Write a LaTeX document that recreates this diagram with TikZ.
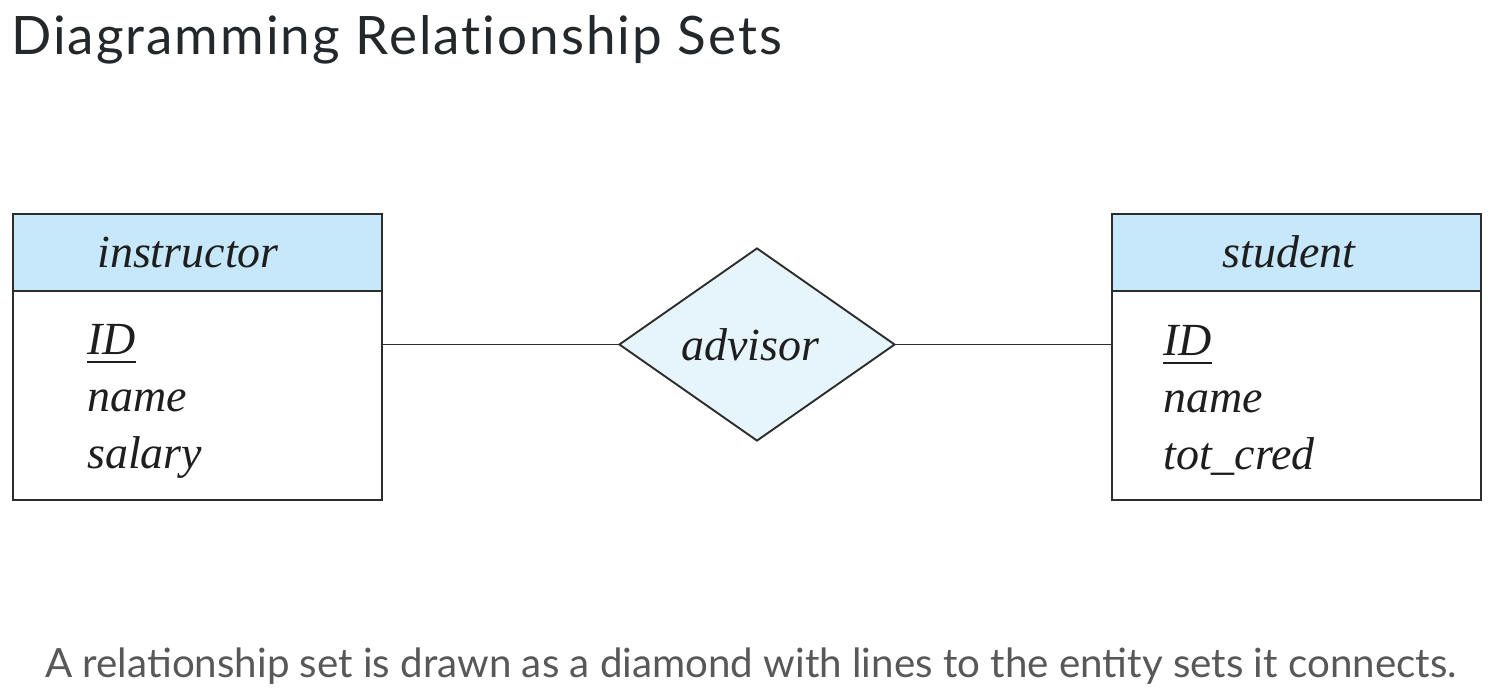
\documentclass[tikz,border=0pt]{standalone}
\usepackage{fontspec}
\setmainfont{Liberation Serif}
\newfontfamily\uisans{Lato}
\newfontfamily\uititle[LetterSpace=3.8,Ligatures=NoCommon]{Lato}
\usetikzlibrary{shapes.geometric}
\definecolor{hdrblue}{RGB}{198,232,250}
\definecolor{dmdblue}{RGB}{230,244,252}
\definecolor{edgecol}{RGB}{45,45,45}
\definecolor{titlecol}{RGB}{36,40,43}
\definecolor{capcol}{RGB}{88,88,88}
\definecolor{txtcol}{RGB}{30,30,30}
\tikzset{
  entbody/.style={draw=edgecol, line width=2pt, fill=white, minimum width=369pt, minimum height=286pt, inner sep=0pt},
  enthead/.style={draw=edgecol, line width=2pt, fill=hdrblue, minimum width=369pt, minimum height=77pt, inner sep=0pt},
  relshape/.style={diamond, draw=edgecol, line width=1.9pt, fill=dmdblue, minimum width=276pt, minimum height=193pt, inner sep=0pt, font=\fontsize{46}{52}\selectfont\itshape, text=txtcol},
  headtext/.style={anchor=base, font=\fontsize{46}{52}\selectfont\itshape, text=txtcol, inner sep=0pt},
  attr/.style={anchor=base west, font=\fontsize{46}{52}\selectfont\itshape, text=txtcol, inner sep=0pt},
  keyline/.style={draw=txtcol, line width=1.8pt},
  conn/.style={draw=edgecol, line width=1.9pt}
}
\begin{document}
\begin{tikzpicture}[x=1pt,y=-1pt]
\useasboundingbox (0,0) rectangle (1494,700);
\fill[white] (0,0) rectangle (1494,700);
\node[anchor=base west, inner sep=0pt, font=\uititle\fontsize{53}{60}\selectfont, text=titlecol] (title) at (11,55) {Diagramming Relationship Sets};
% instructor
\node[entbody] (instr) at (197.5,357) {};
\node[enthead] (instrH) at (197.5,252.5) {};
\node[headtext] (instrT) at (188,268) {instructor};
\node[attr] (iid) at (87,355) {ID};
\draw[keyline] ([yshift=-7pt]iid.base west) -- ([yshift=-7pt]iid.base east);
\node[attr] (iname) at (87,412) {name};
\node[attr] (isal) at (87,468) {salary};
% student
\node[entbody] (stud) at (1296,357) {};
\node[enthead] (studH) at (1296,252.5) {};
\node[headtext] (studT) at (1289,268) {student};
\node[attr] (sid) at (1163,356) {ID};
\draw[keyline] ([yshift=-7pt]sid.base west) -- ([yshift=-7pt]sid.base east);
\node[attr] (sname) at (1163,413) {name};
\node[attr] (stot) at (1163,469) {tot\_cred};
% relationship
\node[relshape] (adv) at (757,344.5) {advisor\kern14pt};
\draw[conn] (adv.west -| instr.east) -- (adv.west);
\draw[conn] (adv.east) -- (adv.east -| stud.west);
% caption
\node[anchor=base west, inner sep=0pt, font=\uisans\fontsize{40.3}{46}\selectfont, text=capcol] (cap) at (45,677) {A relationship set is drawn as a diamond with lines to the entity sets it connects.};
\end{tikzpicture}
\end{document}
